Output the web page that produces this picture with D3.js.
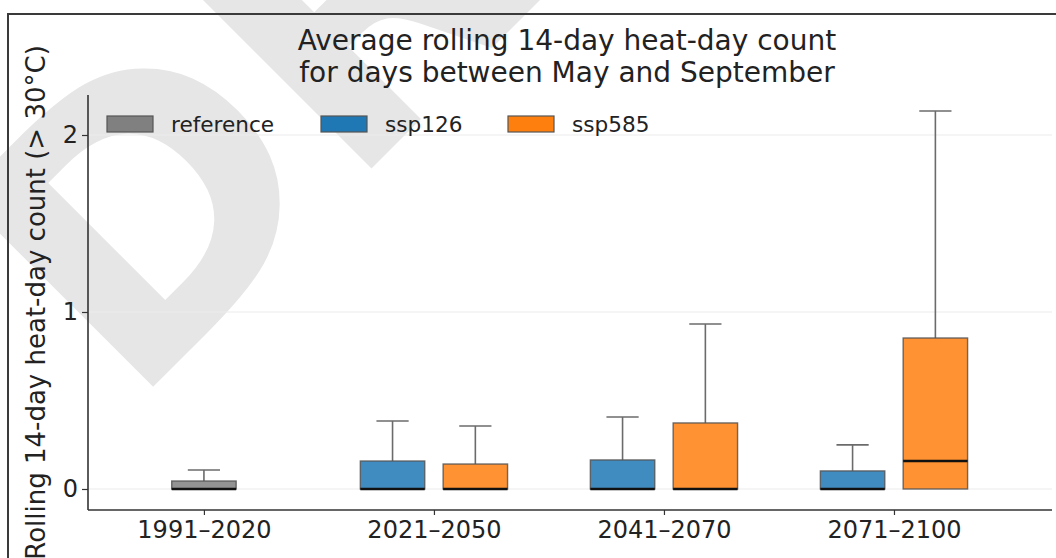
<!DOCTYPE html>
<html>
<head>
<meta charset="utf-8">
<script src="https://cdn.jsdelivr.net/npm/d3@7"></script>
<style>
  html, body { margin: 0; padding: 0; background: #fff; }
  svg { display: block; }
  text { font-family: "DejaVu Sans", sans-serif; fill: #222; }
</style>
</head>
<body>
<svg id="chart" width="1056" height="558"></svg>
<script>
// ---- data ----
const categories = ["1991–2020", "2021–2050", "2041–2070", "2071–2100"];
const seriesNames = ["reference", "ssp126", "ssp585"];
const seriesColors = ["#808080", "#1f77b4", "#ff7f0e"];
// box statistics per category (null = no box)
const referenceQ1 = [0, null, null, null];
const referenceMedian = [0, null, null, null];
const referenceQ3 = [0.045, null, null, null];
const referenceWhiskerHigh = [0.107, null, null, null];
const ssp126Q1 = [null, 0, 0, 0];
const ssp126Median = [null, 0, 0, 0];
const ssp126Q3 = [null, 0.158, 0.164, 0.102];
const ssp126WhiskerHigh = [null, 0.384, 0.407, 0.249];
const ssp585Q1 = [null, 0, 0, 0];
const ssp585Median = [null, 0, 0, 0.158];
const ssp585Q3 = [null, 0.141, 0.373, 0.853];
const ssp585WhiskerHigh = [null, 0.356, 0.932, 2.136];
const yTicks = [0, 1, 2];
const titleLines = ["Average rolling 14-day heat-day count", "for days between May and September"];
const yLabel = "Rolling 14-day heat-day count (> 30°C)";
const watermark = "DRAFT";

// ---- layout ----
const svg = d3.select("#chart");
const plot = { left: 88, right: 1052, top: 95, bottom: 510 };

// watermark (behind everything, intentionally running off the page)
svg.append("text")
  .attr("transform", "translate(129,411) rotate(-45)")
  .style("font-family", "DejaVu Sans, sans-serif")
  .style("font-weight", "bold")
  .style("font-size", "372px")
  .style("fill", "#e6e6e6")
  .text(watermark);

// frame
svg.append("path")
  .attr("d", "M8,600 L8,14 L1060,14")
  .attr("fill", "none").attr("stroke", "#3a3a3a").attr("stroke-width", 2);

const x = d3.scaleLinear().domain([-0.504, 3.687]).range([plot.left, plot.right]);
const y = d3.scaleLinear().domain([-0.1187, 2.226]).range([plot.bottom, plot.top]);

// gridlines
svg.append("g").selectAll("line").data(yTicks).join("line")
  .attr("x1", plot.left).attr("x2", plot.right)
  .attr("y1", d => y(d)).attr("y2", d => y(d))
  .attr("stroke", "#ebebeb").attr("stroke-width", 1.2);

// axes
const yAxis = d3.axisLeft(y).tickValues(yTicks).tickFormat(d3.format("d")).tickSize(6).tickPadding(4);
const gy = svg.append("g").attr("transform", `translate(${plot.left},0)`).call(yAxis);
gy.select(".domain").attr("d", `M0,${plot.top}V${plot.bottom}`).attr("stroke", "#333").attr("stroke-width", 1.6);
gy.selectAll(".tick line").attr("stroke", "#333").attr("stroke-width", 1.2);
gy.selectAll(".tick text").style("font-size", "24px").style("font-family", "DejaVu Sans, sans-serif").attr("fill", "#222");

const xAxis = d3.axisBottom(x).tickValues(d3.range(categories.length)).tickFormat(i => categories[i]).tickSize(5).tickPadding(6);
const gx = svg.append("g").attr("transform", `translate(0,${plot.bottom})`).call(xAxis);
gx.select(".domain").attr("d", `M${plot.left},0H${plot.right}`).attr("stroke", "#333").attr("stroke-width", 1.6);
gx.selectAll(".tick line").attr("stroke", "#333").attr("stroke-width", 1.2);
gx.selectAll(".tick text").style("font-size", "24px").style("font-family", "DejaVu Sans, sans-serif").attr("fill", "#222");

// boxes
const offsets = [0, -0.18, 0.18];
const boxW = 0.28;
const stats = [
  [referenceQ1, referenceMedian, referenceQ3, referenceWhiskerHigh],
  [ssp126Q1, ssp126Median, ssp126Q3, ssp126WhiskerHigh],
  [ssp585Q1, ssp585Median, ssp585Q3, ssp585WhiskerHigh]
];
const boxes = [];
stats.forEach((s, si) => {
  categories.forEach((c, ci) => {
    if (s[2][ci] === null) return;
    boxes.push({ si, ci, q1: s[0][ci], med: s[1][ci], q3: s[2][ci], hi: s[3][ci] });
  });
});
const bg = svg.append("g");
const bw = x(boxW) - x(0);
boxes.forEach(b => {
  const cx = x(b.ci + offsets[b.si]);
  const g = bg.append("g");
  // whisker
  g.append("line").attr("x1", cx).attr("x2", cx).attr("y1", y(b.q3)).attr("y2", y(b.hi))
    .attr("stroke", "#6b6b6b").attr("stroke-width", 1.6);
  g.append("line").attr("x1", cx - bw / 4).attr("x2", cx + bw / 4).attr("y1", y(b.hi)).attr("y2", y(b.hi))
    .attr("stroke", "#6b6b6b").attr("stroke-width", 1.6);
  // box
  g.append("rect").attr("x", cx - bw / 2).attr("width", bw)
    .attr("y", y(b.q3)).attr("height", y(b.q1) - y(b.q3))
    .attr("fill", seriesColors[b.si]).attr("fill-opacity", 0.85)
    .attr("stroke", "#555").attr("stroke-opacity", 0.85).attr("stroke-width", 1.4);
  // median
  g.append("line").attr("x1", cx - bw / 2).attr("x2", cx + bw / 2).attr("y1", y(b.med)).attr("y2", y(b.med))
    .attr("stroke", "#111").attr("stroke-width", 2.6);
});

// legend
const legendX = [107, 321, 508];
const lg = svg.append("g");
seriesNames.forEach((n, i) => {
  lg.append("rect").attr("x", legendX[i]).attr("y", 116).attr("width", 46).attr("height", 16)
    .attr("fill", seriesColors[i]).attr("stroke", "#555").attr("stroke-width", 1.2);
  lg.append("text").attr("x", legendX[i] + 64).attr("y", 132)
    .style("font-size", "21.6px").text(n);
});

// title
svg.append("g").selectAll("text").data(titleLines).join("text")
  .attr("x", 567).attr("y", (d, i) => 50 + i * 32)
  .attr("text-anchor", "middle").style("font-size", "28px").text(d => d);

// y label
svg.append("text")
  .attr("transform", `translate(45,${(plot.top + plot.bottom) / 2}) rotate(-90)`)
  .attr("text-anchor", "middle").style("font-size", "26px").text(yLabel);
</script>
</body>
</html>
